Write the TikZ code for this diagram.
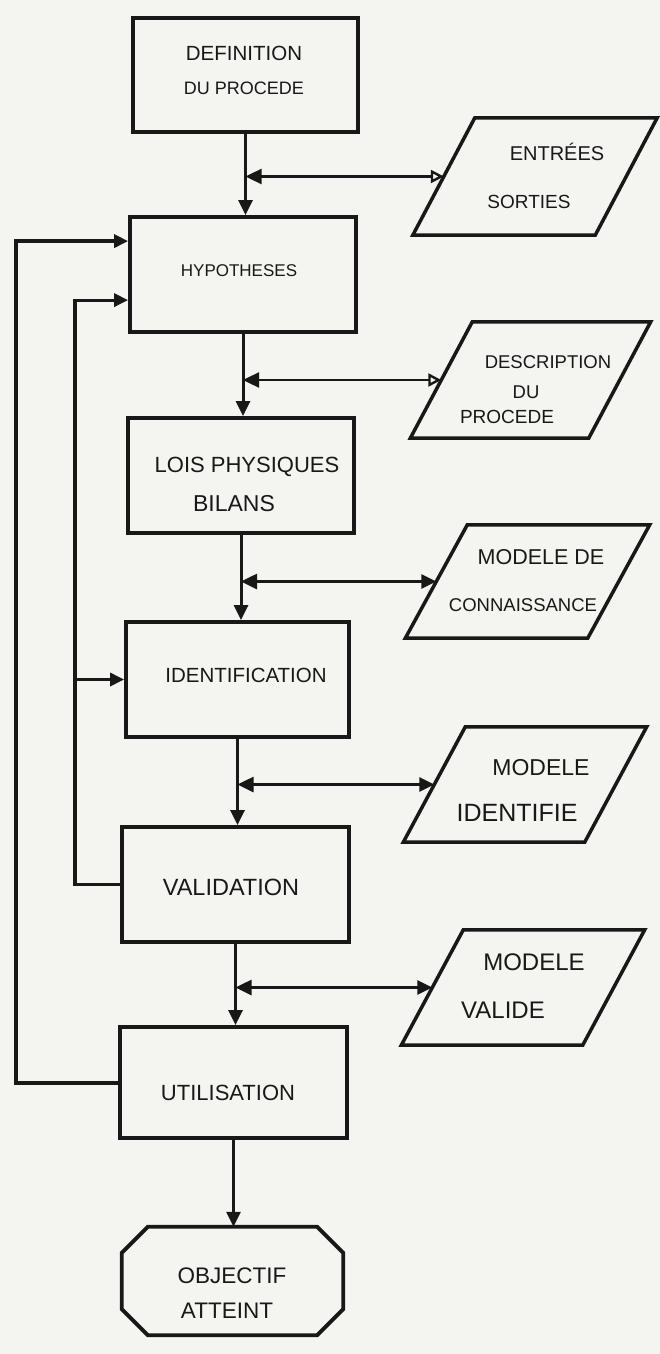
\documentclass[tikz,border=0pt]{standalone}
\usepackage{fontspec}
\setmainfont{Liberation Sans}
\usetikzlibrary{arrows.meta}

\definecolor{paper}{RGB}{244,244,241}
\definecolor{ink}{RGB}{24,24,24}

% slanted input/output outline around a named node
\newcommand\slantoutline[1]{%
  \draw[ioline] ([xshift=31pt]#1.north west) -- ([xshift=31pt]#1.north east)
    -- ([xshift=-31pt]#1.south east) -- ([xshift=-31pt]#1.south west) -- cycle;}
% cut-corner outline for the terminal node
\newcommand\octoutline[1]{%
  \draw[boxline] ([xshift=26pt]#1.north west) -- ([xshift=-26pt]#1.north east)
    -- ([yshift=-26pt]#1.north east) -- ([yshift=26pt]#1.south east)
    -- ([xshift=-26pt]#1.south east) -- ([xshift=26pt]#1.south west)
    -- ([yshift=26pt]#1.south west) -- ([yshift=-26pt]#1.north west) -- cycle;}

\begin{document}
\begin{tikzpicture}[x=1pt,y=-1pt,
  boxline/.style={draw=ink, line width=3.8pt, line join=miter},
  ioline/.style={draw=ink, line width=3.5pt, line join=miter},
  stepbox/.style={boxline, rectangle, inner sep=0pt},
  iobox/.style={rectangle, inner sep=0pt, draw=none},
  lbl/.style={anchor=base, inner sep=0pt, text=ink, font=\fontsize{#1}{#1}\selectfont},
  flow/.style={draw=ink, line width=3pt, -{Triangle[length=15pt,width=14pt]}},
  link/.style={draw=ink, line width=2.6pt,
    {Triangle[length=16pt,width=15pt]}-{Triangle[length=15pt,width=14pt]}},
  linkopen/.style={draw=ink, line width=2.4pt,
    {Triangle[length=16pt,width=15pt]}-{Triangle[open,length=13pt,width=13pt]}},
  back/.style={draw=ink, line width=#1, line join=miter,
    -{Triangle[length=14pt,width=13pt]}},
]
\fill[paper] (0,0) rectangle (660,1354);
\useasboundingbox (0,0) rectangle (660,1354);

% main steps
\node[stepbox, minimum width=225pt, minimum height=114pt] (b1) at (245.5,75) {};
\node[stepbox, minimum width=226pt, minimum height=115pt] (b2) at (243,274.5) {};
\node[stepbox, minimum width=226pt, minimum height=115pt] (b3) at (241,475.5) {};
\node[stepbox, minimum width=223pt, minimum height=115pt] (b4) at (237.5,679.5) {};
\node[stepbox, minimum width=227pt, minimum height=115pt] (b5) at (235.5,884.5) {};
\node[stepbox, minimum width=227pt, minimum height=111pt] (b6) at (233.5,1082.5) {};
\node[iobox, minimum width=221pt, minimum height=108pt] (goal) at (232.5,1281) {};
\octoutline{goal}

% inputs / outputs
\node[iobox, minimum width=182pt, minimum height=117pt] (p1) at (535,176.5) {};
\node[iobox, minimum width=178pt, minimum height=116pt] (p2) at (530.5,380) {};
\node[iobox, minimum width=182pt, minimum height=113pt] (p3) at (527.5,581.5) {};
\node[iobox, minimum width=181pt, minimum height=115pt] (p4) at (525,784.5) {};
\node[iobox, minimum width=181pt, minimum height=115pt] (p5) at (523,987.5) {};
\slantoutline{p1}
\slantoutline{p2}
\slantoutline{p3}
\slantoutline{p4}
\slantoutline{p5}

% texts
\node[lbl=20.5] (t1a) at (244,60.3) {DEFINITION};
\node[lbl=18]   (t1b) at (244,94.4) {DU PROCEDE};
\node[lbl=17]   (t2)  at (239,276.1) {HYPOTHESES};
\node[lbl=22]   (t3a) at (247,472.9) {LOIS PHYSIQUES};
\node[lbl=23]   (t3b) at (234,511.2) {BILANS};
\node[lbl=20.5] (t4)  at (246,682.3) {IDENTIFICATION};
\node[lbl=23.5] (t5)  at (231,895.4) {VALIDATION};
\node[lbl=22]   (t6)  at (228,1100.9) {UTILISATION};
\node[lbl=22.5] (tga) at (232,1283) {OBJECTIF};
\node[lbl=22.5] (tgb) at (227,1318) {ATTEINT};

\node[lbl=20]   (q1a) at (557,160.2) {ENTRÉES};
\node[lbl=19]   (q1b) at (529,208.8) {SORTIES};
\node[lbl=18.5] (q2a) at (548,368.6) {DESCRIPTION};
\node[lbl=18.5] (q2b) at (526,398.6) {DU};
\node[lbl=19]   (q2c) at (507,423.8) {PROCEDE};
\node[lbl=21.5] (q3a) at (541,564.7) {MODELE DE};
\node[lbl=18.5] (q3b) at (523,611.6) {CONNAISSANCE};
\node[lbl=23]   (q4a) at (541,775.2) {MODELE};
\node[lbl=25]   (q4b) at (517,821) {IDENTIFIE};
\node[lbl=24]   (q5a) at (534,970.6) {MODELE};
\node[lbl=24]   (q5b) at (503,1018.6) {VALIDE};

% main sequence
\draw[flow] (b1.south) -- (b1.south |- b2.north);
\draw[flow] (b2.south) -- (b2.south |- b3.north);
\draw[flow] (b3.south) -- (b3.south |- b4.north);
\draw[flow] (b4.south) -- (b4.south |- b5.north);
\draw[flow] (b5.south) -- (b5.south |- b6.north);
\draw[flow] (b6.south) -- (b6.south |- goal.north);

% exchanges with the inputs / outputs
\draw[linkopen] (b1.south |- p1.west) -- (p1.west);
\draw[linkopen] (b2.south |- p2.west) -- (p2.west);
\draw[link] (b3.south |- p3.west) -- (p3.west);
\draw[link] (b4.south |- p4.west) -- (p4.west);
\draw[link] (b5.south |- p5.west) -- (p5.west);

% feedback loops
\coordinate (outer) at (16,0);
\coordinate (inner) at (75,0);
\draw[back=4pt] (b6.west) -- (b6.west -| outer) |- ([yshift=-26pt]b2.north west);
\draw[back=3.2pt] (b5.west) -- (b5.west -| inner) |- ([yshift=-85pt]b2.north west);
\draw[back=3.2pt] (b4.west -| inner) -- (b4.west);
\end{tikzpicture}
\end{document}
